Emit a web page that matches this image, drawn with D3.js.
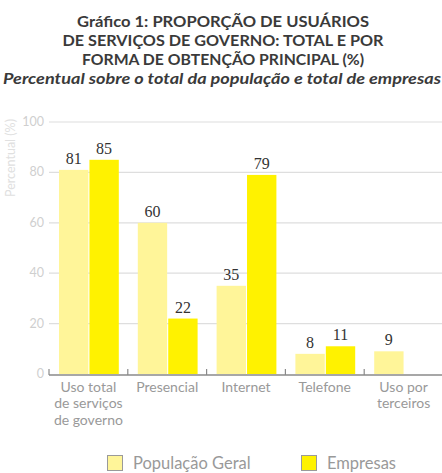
<!DOCTYPE html>
<html>
<head>
<meta charset="utf-8">
<script src="https://cdn.jsdelivr.net/npm/d3@7"></script>
<style>
  body { margin: 0; background: #fff; }
  svg text { font-family: Lato, "Open Sans", sans-serif; }
</style>
</head>
<body>
<svg id="chart" width="442" height="473"></svg>
<script>
const categories = [
    ["Uso total", "de serviços", "de governo"],
    ["Presencial"],
    ["Internet"],
    ["Telefone"],
    ["Uso por", "terceiros"]
];
const seriesNames = ["População Geral", "Empresas"];
const populacao = [81, 60, 35, 8, 9];
const empresas = [85, 22, 79, 11, null];
const yTicks = [0, 20, 40, 60, 80, 100];
const titleLines = [
    "Gráfico 1: PROPORÇÃO DE USUÁRIOS",
    "DE SERVIÇOS DE GOVERNO: TOTAL E POR",
    "FORMA DE OBTENÇÃO PRINCIPAL (%)"
];
const titleWidths = [292, 321, 282];
const subtitle = "Percentual sobre o total da população e total de empresas";
const colors = ["#fff599", "#fff200"];

const svg = d3.select("#chart");

// Title
const title = svg.append("g");
titleLines.forEach((t, i) => {
    title.append("text")
        .attr("x", 223).attr("y", 27 + i * 19)
        .attr("text-anchor", "middle")
        .attr("font-size", 15.5).attr("font-weight", "bold")
        .attr("textLength", titleWidths[i]).attr("lengthAdjust", "spacingAndGlyphs")
        .attr("fill", "#3a3a3a")
        .text(t);
});
title.append("text")
    .attr("x", 222).attr("y", 84)
    .attr("text-anchor", "middle")
    .attr("font-size", 15.5).attr("font-weight", "bold").attr("font-style", "italic")
    .attr("textLength", 438).attr("lengthAdjust", "spacingAndGlyphs")
    .attr("fill", "#3a3a3a")
    .text(subtitle);

// Scales
const x = d3.scaleBand()
    .domain(d3.range(categories.length))
    .range([49, 443])
    .paddingInner(0).paddingOuter(0);
const x1 = d3.scaleBand()
    .domain([0, 1])
    .range([10, x.bandwidth() - 9])
    .paddingInner(0.035);
const y = d3.scaleLinear().domain([0, 100]).range([374, 122]);

// Grid
svg.append("g").selectAll("line")
    .data(yTicks.filter(d => d > 0))
    .join("line")
    .attr("x1", 49).attr("x2", 442)
    .attr("y1", d => y(d)).attr("y2", d => y(d))
    .attr("stroke", "#dedede").attr("stroke-width", 1.2);

// Y tick labels
svg.append("g").selectAll("text")
    .data(yTicks)
    .join("text")
    .attr("x", 44).attr("y", d => y(d) + 4)
    .attr("text-anchor", "end")
    .attr("font-size", 12.5)
    .attr("fill", "#cfcfcf")
    .text(d => d);

svg.append("text")
    .attr("transform", "translate(15,158) rotate(-90)")
    .attr("text-anchor", "middle")
    .attr("font-size", 12.5)
    .attr("fill", "#e0e0e0")
    .text("Percentual (%)");

// Bars
const groups = svg.append("g").selectAll("g")
    .data(categories.map((c, i) => ({ i, vals: [populacao[i], empresas[i]] })))
    .join("g")
    .attr("transform", d => `translate(${x(d.i)},0)`);

groups.selectAll("rect")
    .data(d => d.vals.map((v, s) => ({ v, s })).filter(e => e.v != null))
    .join("rect")
    .attr("x", d => x1(d.s))
    .attr("width", x1.bandwidth())
    .attr("y", d => y(d.v))
    .attr("height", d => y(0) - y(d.v))
    .attr("fill", d => colors[d.s]);

groups.selectAll("text.val")
    .data(d => d.vals.map((v, s) => ({ v, s })).filter(e => e.v != null))
    .join("text")
    .attr("class", "val")
    .attr("x", d => x1(d.s) + x1.bandwidth() / 2)
    .attr("y", d => y(d.v) - 6)
    .attr("text-anchor", "middle")
    .attr("fill", "#333")
    .style("font-family", "'Liberation Serif', serif")
    .attr("font-size", 16)
    .text(d => d.v);

// X axis
const axis = svg.append("g");
axis.append("line")
    .attr("x1", 49).attr("x2", 442)
    .attr("y1", y(0) + 1).attr("y2", y(0) + 1)
    .attr("stroke", "#8a8a8a").attr("stroke-width", 1.5);
axis.selectAll("line.tick")
    .data(d3.range(categories.length))
    .join("line")
    .attr("class", "tick")
    .attr("x1", d => x(d)).attr("x2", d => x(d))
    .attr("y1", y(0) + 1).attr("y2", y(0) - 5)
    .attr("stroke", "#8a8a8a").attr("stroke-width", 1.2);

groups.append("text")
    .attr("text-anchor", "middle")
    .attr("font-size", 14)
    .attr("fill", "#999")
    .selectAll("tspan")
    .data(d => categories[d.i])
    .join("tspan")
    .attr("x", x.bandwidth() / 2)
    .attr("y", (d, i) => 392 + i * 16.3)
    .text(d => d);

// Legend
const legend = svg.append("g");
const legX = [107, 301];
seriesNames.forEach((n, i) => {
    legend.append("rect")
        .attr("x", legX[i] + 0.5).attr("y", 455.5)
        .attr("width", 15).attr("height", 15)
        .attr("fill", colors[i])
        .attr("stroke", "#9a9a9a").attr("stroke-width", 1);
    legend.append("text")
        .attr("x", legX[i] + 26).attr("y", 469)
        .attr("font-size", 16.5)
        .attr("fill", "#999")
        .text(n);
});
</script>
</body>
</html>
